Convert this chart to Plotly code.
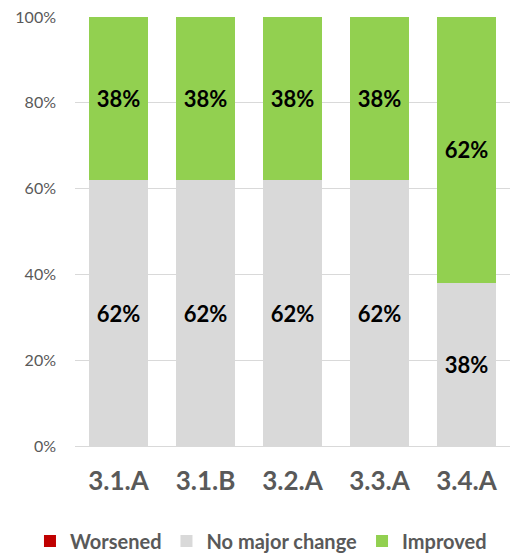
import plotly.graph_objects as go

# Share of outcomes per indicator (percent)
categories = ["3.1.A", "3.1.B", "3.2.A", "3.3.A", "3.4.A"]
worsened = [0, 0, 0, 0, 0]
no_major_change = [62, 62, 62, 62, 38]
improved = [38, 38, 38, 38, 62]

y_ticks = [0, 20, 40, 60, 80, 100]
y_tick_labels = ["0%", "20%", "40%", "60%", "80%", "100%"]

FONT = "Lato, 'Open Sans', sans-serif"
GREY_TEXT = "#595959"


def labels(values):
    return [f"{v}%" if v > 0 else "" for v in values]


fig = go.Figure()
series = [
    ("Worsened", worsened, "#c00000"),
    ("No major change", no_major_change, "#d9d9d9"),
    ("Improved", improved, "#92d050"),
]
for name, vals, color in series:
    fig.add_trace(go.Bar(
        x=categories,
        y=vals,
        name=name,
        marker=dict(color=color, line=dict(width=0)),
        text=labels(vals),
        textposition="inside",
        insidetextanchor="middle",
        textangle=0,
        textfont=dict(family=FONT, size=22, color="black", weight="bold"),
        hoverinfo="skip",
    ))

fig.update_layout(
    barmode="stack",
    bargap=0.32,
    width=510,
    height=557,
    margin=dict(l=75, r=0, t=17, b=111, autoexpand=False),
    paper_bgcolor="white",
    plot_bgcolor="white",
    font=dict(family=FONT, color=GREY_TEXT),
    uniformtext=dict(mode=False),
    xaxis=dict(
        showgrid=False,
        showline=True,
        linecolor="#d9d9d9",
        linewidth=1,
        ticks="",
        tickfont=dict(family=FONT, size=26, color=GREY_TEXT, weight="bold"),
        ticklabelstandoff=12,
    ),
    yaxis=dict(
        range=[0, 100],
        tickvals=y_ticks,
        ticktext=y_tick_labels,
        showgrid=True,
        gridcolor="#d9d9d9",
        gridwidth=1,
        zeroline=False,
        ticks="",
        tickfont=dict(family=FONT, size=16, color=GREY_TEXT),
        ticklabelstandoff=18,
    ),
    legend=dict(
        orientation="h",
        xref="paper",
        x=-0.1035,
        xanchor="left",
        yref="paper",
        y=-(541 - 446) / 429,
        yanchor="middle",
        font=dict(family=FONT, size=20, color=GREY_TEXT, weight="bold"),
        itemwidth=30,
        traceorder="normal",
    ),
    showlegend=True,
)

fig.write_html("out.html")
